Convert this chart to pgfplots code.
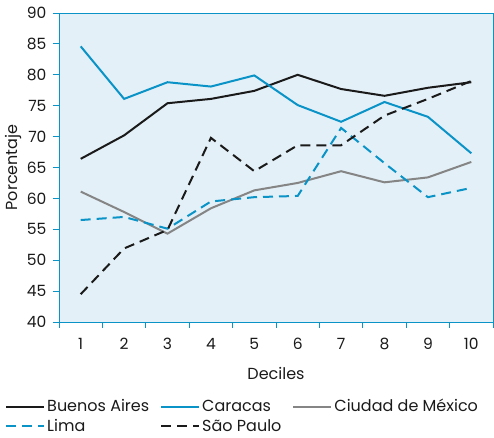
\documentclass[border=0pt]{standalone}
\usepackage{fontspec}
\setmainfont{Poppins}
\usepackage{pgfplots}
\pgfplotsset{compat=1.18}
\definecolor{bgc}{HTML}{E3F0F7}
\definecolor{blu}{HTML}{0A93C6}
\definecolor{gry}{HTML}{858585}
\definecolor{blk}{HTML}{1A1A1A}
\begin{document}
\fontsize{16}{19}\selectfont
\begin{tikzpicture}
\useasboundingbox (-59pt,-115pt) rectangle (435pt,322pt);
\begin{axis}[
  scale only axis, width=434pt, height=309pt,
  xmin=0.5, xmax=10.5, ymin=40, ymax=90,
  axis background/.style={fill=bgc},
  axis line style={blu, line width=0.9pt},
  tick style={blu, line width=0.9pt},
  tick align=outside, tick pos=left,
  major tick length=6pt,
  xtick={0.5,1.5,...,10.5},
  x tick label as interval,
  xticklabels={1,2,3,4,5,6,7,8,9,10},
  ytick={40,45,...,90},
  /pgf/number format/assume math mode=true,
  tick label style={font=\fontsize{15.5}{18}\selectfont, text=blk},
  xticklabel style={yshift=-5pt},
  yticklabel style={xshift=-1pt},
  xlabel={Deciles}, ylabel={Porcentaje},
  label style={font=\fontsize{16}{19}\selectfont, text=blk},
  xlabel style={yshift=-6pt},
  ylabel style={yshift=-6pt},
  legend columns=3,
  legend style={at={(0,0)}, anchor=north west, xshift=-54pt, yshift=-75pt,
    draw=none, fill=none, font=\fontsize{16}{19}\selectfont, text=blk,
    /tikz/every even column/.append style={column sep=9pt},
    row sep=1pt, inner sep=0pt},
  legend cell align=left,
  legend image code/.code={\draw[#1] (0pt,0pt) -- (38pt,0pt);},
  every axis plot/.append style={line width=2pt},
]
\addplot[blk] coordinates {(1,66.4)(2,70.2)(3,75.4)(4,76.1)(5,77.4)(6,80.0)(7,77.7)(8,76.6)(9,77.9)(10,78.8)};
\addlegendentry{Buenos Aires}
\addplot[blu] coordinates {(1,84.6)(2,76.1)(3,78.8)(4,78.1)(5,79.9)(6,75.1)(7,72.4)(8,75.6)(9,73.2)(10,67.3)};
\addlegendentry{Caracas}
\addplot[gry] coordinates {(1,61.1)(2,57.8)(3,54.3)(4,58.4)(5,61.3)(6,62.5)(7,64.4)(8,62.6)(9,63.4)(10,65.9)};
\addlegendentry{Ciudad de México}
\addplot[blu, dash pattern=on 10pt off 6pt] coordinates {(1,56.5)(2,57.0)(3,55.1)(4,59.5)(5,60.2)(6,60.4)(7,71.4)(8,65.7)(9,60.2)(10,61.7)};
\addlegendentry{Lima}
\addplot[blk, dash pattern=on 10pt off 6pt] coordinates {(1,44.5)(2,51.9)(3,54.9)(4,69.8)(5,64.4)(6,68.6)(7,68.6)(8,73.4)(9,76.1)(10,79.0)};
\addlegendentry{São Paulo}
\end{axis}
\end{tikzpicture}
\end{document}
